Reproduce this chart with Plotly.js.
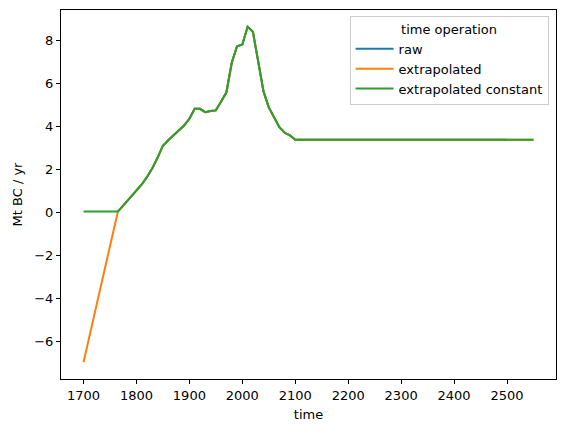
<!DOCTYPE html>
<html>
<head>
<meta charset="utf-8">
<script src="https://cdn.plot.ly/plotly-3.0.1.min.js"></script>
<style>html,body{margin:0;padding:0;background:#fff;}#chart{width:565px;height:432px;}</style>
</head>
<body>
<div id="chart"></div>
<script>
// Raw years and values (Mt BC / yr)
const rawYears = [1765, 1770, 1780, 1790, 1800, 1810, 1820, 1830, 1840, 1850,
  1860, 1870, 1880, 1890, 1900, 1910, 1920, 1930, 1940, 1950,
  1960, 1970, 1980, 1990, 2000, 2010, 2020, 2030, 2040, 2050,
  2060, 2070, 2080, 2090, 2100, 2150, 2200, 2250, 2300, 2400, 2500];
const rawValues = [0.05, 0.18, 0.45, 0.74, 1.02, 1.3, 1.65, 2.05, 2.55, 3.1,
  3.35, 3.58, 3.8, 4.04, 4.35, 4.81, 4.81, 4.66, 4.71, 4.74,
  5.15, 5.58, 6.95, 7.72, 7.8, 8.62, 8.39, 7.02, 5.62, 4.88,
  4.4, 3.96, 3.7, 3.58, 3.38, 3.38, 3.38, 3.38, 3.38, 3.38, 3.38];

// Extrapolated series: extra start and end points
const extrapStartYear = 1700;
const extrapStartValue = -6.95;
const extrapEndYear = 2550;
const extrapEndValue = 3.38;

// Constant extrapolation: start/end values
const constStartValue = 0.05;
const constEndValue = 3.38;

const seriesNames = ["raw", "extrapolated", "extrapolated constant"];
const seriesColors = ["#1f77b4", "#ff7f0e", "#2ca02c"];

const extrapYears = [extrapStartYear].concat(rawYears, [extrapEndYear]);
const extrapValues = [extrapStartValue].concat(rawValues, [extrapEndValue]);
const constYears = [extrapStartYear].concat(rawYears, [extrapEndYear]);
const constValues = [constStartValue].concat(rawValues, [constEndValue]);

const traces = [
  {x: rawYears, y: rawValues, name: seriesNames[0], mode: 'lines', line: {color: seriesColors[0], width: 2}},
  {x: extrapYears, y: extrapValues, name: seriesNames[1], mode: 'lines', line: {color: seriesColors[1], width: 2}},
  {x: constYears, y: constValues, name: seriesNames[2], mode: 'lines', line: {color: seriesColors[2], width: 2}}
];

const font = {family: 'DejaVu Sans, sans-serif', size: 13, color: '#262626'};
const axisCommon = {
  showgrid: false, zeroline: false, showline: true, linecolor: '#000', linewidth: 1,
  mirror: true, ticks: 'outside', ticklen: 4, tickwidth: 1, tickcolor: '#000',
  tickfont: {family: 'DejaVu Sans, sans-serif', size: 13, color: '#000'}
};

const layout = {
  width: 565, height: 432,
  margin: {l: 61, r: 9, t: 10, b: 53},
  paper_bgcolor: '#fff', plot_bgcolor: '#fff',
  font: font,
  showlegend: true,
  xaxis: Object.assign({}, axisCommon, {
    range: [1657.5, 2592.5], tickvals: [1700,1800,1900,2000,2100,2200,2300,2400,2500],
    title: {text: 'time', font: {family: 'DejaVu Sans, sans-serif', size: 13, color: '#000'}, standoff: 8}
  }),
  yaxis: Object.assign({}, axisCommon, {
    range: [-7.73, 9.40], tickvals: [-6,-4,-2,0,2,4,6,8],
    ticktext: ['\u22126','\u22124','\u22122','0','2','4','6','8'],
    title: {text: 'Mt BC / yr', font: {family: 'DejaVu Sans, sans-serif', size: 13, color: '#000'}, standoff: 8}
  }),
  legend: {
    x: 0.985, xanchor: 'right', y: 0.984, yanchor: 'top',
    bgcolor: 'rgba(255,255,255,0.8)', bordercolor: '#cccccc', borderwidth: 1,
    font: {family: 'DejaVu Sans, sans-serif', size: 13, color: '#000'},
    title: {text: 'time operation', side: 'top center', font: {family: 'DejaVu Sans, sans-serif', size: 13, color: '#000'}},
    tracegroupgap: 0, itemwidth: 38
  }
};

Plotly.newPlot('chart', traces, layout, {displayModeBar: false, staticPlot: true});
</script>
</body>
</html>
